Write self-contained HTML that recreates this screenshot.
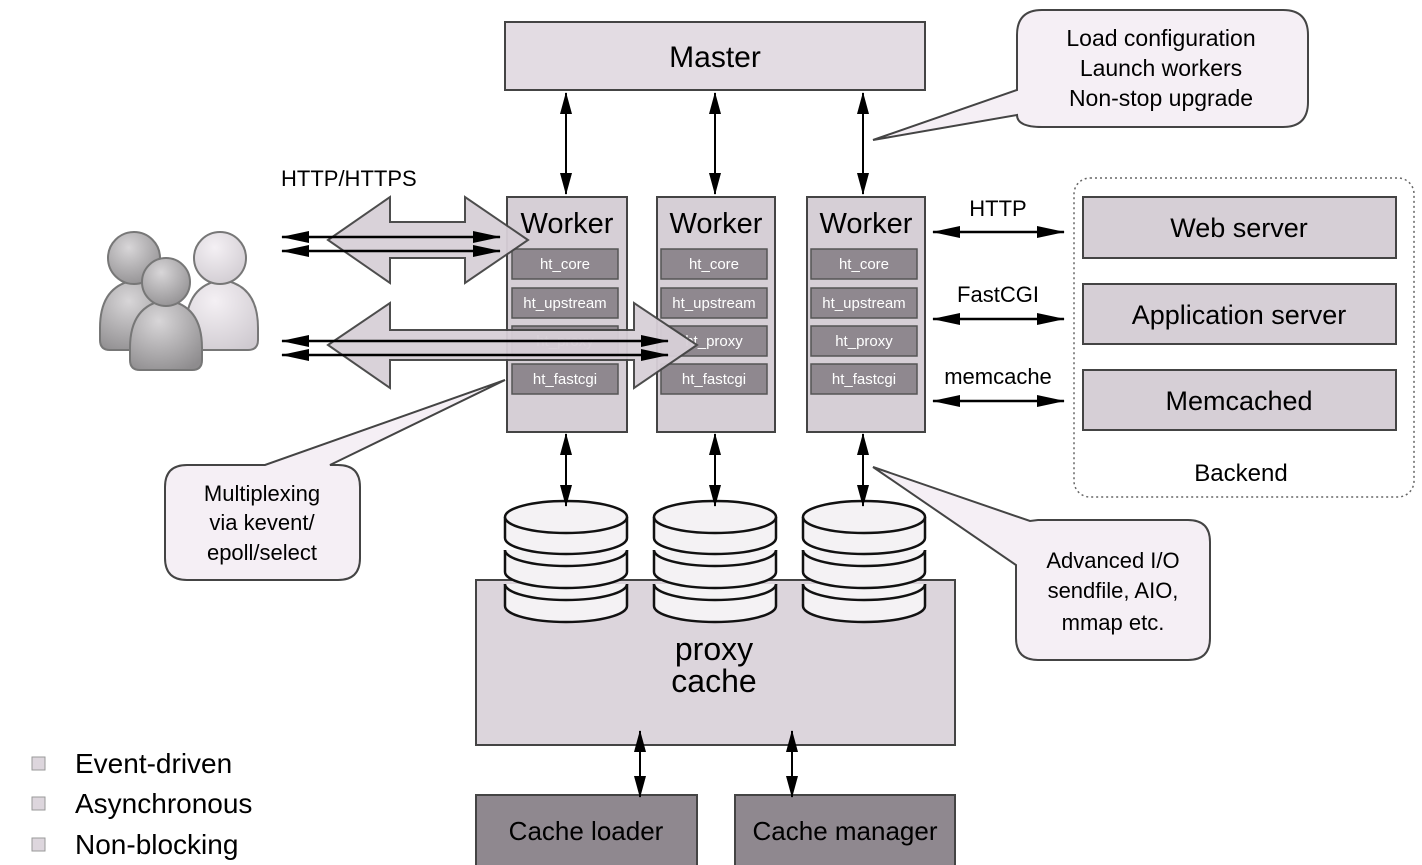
<!DOCTYPE html>
<html><head><meta charset="utf-8"><style>
html,body{margin:0;padding:0;background:#fff;}
svg{display:block;font-family:"Liberation Sans",sans-serif;}
</style></head><body>
<svg width="1422" height="865" viewBox="0 0 1422 865" xmlns="http://www.w3.org/2000/svg">
<defs>
<marker id="c" markerWidth="22" markerHeight="12" refX="21" refY="6" orient="auto-start-reverse" markerUnits="userSpaceOnUse"><path d="M0,0 L22,6 L0,12 Z" fill="#000"/></marker>
<marker id="b" markerWidth="28" markerHeight="12" refX="27" refY="6" orient="auto-start-reverse" markerUnits="userSpaceOnUse"><path d="M0,0 L28,6 L0,12 Z" fill="#000"/></marker>
<radialGradient id="p1" cx="0.4" cy="0.3" r="0.8"><stop offset="0" stop-color="#d8d6d8"/><stop offset="1" stop-color="#8e8c8e"/></radialGradient>
<radialGradient id="p2" cx="0.4" cy="0.3" r="0.8"><stop offset="0" stop-color="#f4f0f4"/><stop offset="1" stop-color="#cfcad0"/></radialGradient>
</defs>

<!-- Master -->
<rect x="505" y="22" width="420" height="68" fill="#e3dce3" stroke="#444" stroke-width="2"/>
<text x="715" y="67" font-size="30" text-anchor="middle">Master</text>

<!-- callout top right -->
<path d="M1042,10 H1283 Q1308,10 1308,35 V102 Q1308,127 1283,127 H1042 Q1017,127 1017,115 L873,140 L1017,90 V35 Q1017,10 1042,10 Z" fill="#f5eff5" stroke="#444" stroke-width="2"/>
<g font-size="23" text-anchor="middle"><text x="1161" y="46">Load configuration</text><text x="1161" y="76">Launch workers</text><text x="1161" y="106">Non-stop upgrade</text></g>

<!-- Workers -->
<g>
<rect x="507" y="197" width="120" height="235" fill="#d6cfd6" stroke="#444" stroke-width="2"/>
<rect x="657" y="197" width="118" height="235" fill="#d6cfd6" stroke="#444" stroke-width="2"/>
<rect x="807" y="197" width="118" height="235" fill="#d6cfd6" stroke="#444" stroke-width="2"/>
<g font-size="29" text-anchor="middle"><text x="567" y="233">Worker</text><text x="716" y="233">Worker</text><text x="866" y="233">Worker</text></g>
<g fill="#8f888f" stroke="#555" stroke-width="1.5">
<rect x="512" y="249" width="106" height="30"/><rect x="512" y="288" width="106" height="30"/><rect x="512" y="326" width="106" height="30"/><rect x="512" y="364" width="106" height="30"/>
<rect x="661" y="249" width="106" height="30"/><rect x="661" y="288" width="106" height="30"/><rect x="661" y="326" width="106" height="30"/><rect x="661" y="364" width="106" height="30"/>
<rect x="811" y="249" width="106" height="30"/><rect x="811" y="288" width="106" height="30"/><rect x="811" y="326" width="106" height="30"/><rect x="811" y="364" width="106" height="30"/>
</g>
<g font-size="15" fill="#fff" text-anchor="middle">
<text x="565" y="269">ht_core</text><text x="565" y="308">ht_upstream</text><text x="565" y="346">ht_proxy</text><text x="565" y="384">ht_fastcgi</text>
<text x="714" y="269">ht_core</text><text x="714" y="308">ht_upstream</text><text x="714" y="346">ht_proxy</text><text x="714" y="384">ht_fastcgi</text>
<text x="864" y="269">ht_core</text><text x="864" y="308">ht_upstream</text><text x="864" y="346">ht_proxy</text><text x="864" y="384">ht_fastcgi</text>
</g>
</g>

<!-- HTTP/HTTPS -->
<text x="281" y="186" font-size="22">HTTP/HTTPS</text>
<path d="M328,240 L390,197 V222 H465 V197 L528,240 L465,283 V258 H390 V283 Z" fill="#d8d0d8" stroke="#444" stroke-width="2" opacity="0.95"/>
<g stroke="#000" stroke-width="2.5" marker-start="url(#b)" marker-end="url(#b)">
<line x1="282" y1="237" x2="500" y2="237"/><line x1="282" y1="251" x2="500" y2="251"/>
</g>
<path d="M328,345 L390,303 V330 H634 V303 L697,345 L634,388 V360 H390 V388 Z" fill="#d8d0d8" stroke="#444" stroke-width="2" opacity="0.95"/>
<g stroke="#000" stroke-width="2.5" marker-start="url(#b)" marker-end="url(#b)">
<line x1="282" y1="341" x2="668" y2="341"/><line x1="282" y1="355" x2="668" y2="355"/>
</g>

<!-- people -->
<g stroke="#777" stroke-width="2">
<path d="M186,328 Q186,285 222,280 Q258,285 258,328 V340 Q258,350 248,350 H196 Q186,350 186,340 Z" fill="url(#p2)"/>
<circle cx="220" cy="258" r="26" fill="url(#p2)"/>
<path d="M100,328 Q100,285 136,280 Q172,285 172,328 V340 Q172,350 162,350 H110 Q100,350 100,340 Z" fill="url(#p1)"/>
<circle cx="134" cy="258" r="26" fill="url(#p1)"/>
<path d="M130,348 Q130,305 166,300 Q202,305 202,348 V360 Q202,370 192,370 H140 Q130,370 130,360 Z" fill="url(#p1)"/>
<circle cx="166" cy="282" r="24" fill="url(#p1)"/>
</g>

<!-- Multiplexing callout -->
<path d="M187,465 H265 L505,380 L330,465 H338 Q360,465 360,487 V558 Q360,580 338,580 H187 Q165,580 165,558 V487 Q165,465 187,465 Z" fill="#f5eff5" stroke="#444" stroke-width="2"/>
<g font-size="22" text-anchor="middle"><text x="262" y="501">Multiplexing</text><text x="262" y="530">via kevent/</text><text x="262" y="560">epoll/select</text></g>

<!-- proxy cache -->
<rect x="476" y="580" width="479" height="165" fill="#dcd5dc" stroke="#444" stroke-width="2"/>
<g font-size="32" text-anchor="middle"><text x="714" y="660">proxy</text><text x="714" y="692">cache</text></g>

<!-- disks -->
<g fill="#f4f2f4" stroke="#111" stroke-width="2.5">
<g id="d1">
<path d="M505,584 V606 A61,16 0 0 0 627,606 V584"/>
<path d="M505,584 A61,16 0 0 0 627,584"/>
<path d="M505,550 V572 A61,16 0 0 0 627,572 V550"/>
<path d="M505,550 A61,16 0 0 0 627,550"/>
<path d="M505,517 V538 A61,16 0 0 0 627,538 V517"/>
<ellipse cx="566" cy="517" rx="61" ry="16"/>
</g>
<use href="#d1" x="149"/>
<use href="#d1" x="298"/>
</g>

<!-- Advanced callout -->
<path d="M1038,520 H1188 Q1210,520 1210,542 V638 Q1210,660 1188,660 H1038 Q1016,660 1016,638 V565 L873,467 L1030,521 Z" fill="#f5eff5" stroke="#444" stroke-width="2"/>
<g font-size="22" text-anchor="middle"><text x="1113" y="568">Advanced I/O</text><text x="1113" y="598">sendfile, AIO,</text><text x="1113" y="630">mmap etc.</text></g>

<!-- backend arrows -->
<g font-size="22" text-anchor="middle"><text x="998" y="216">HTTP</text><text x="998" y="302">FastCGI</text><text x="998" y="384">memcache</text></g>
<g stroke="#000" stroke-width="2.5" marker-start="url(#b)" marker-end="url(#b)">
<line x1="933" y1="232" x2="1064" y2="232"/><line x1="933" y1="319" x2="1064" y2="319"/><line x1="933" y1="401" x2="1064" y2="401"/>
</g>

<!-- backend -->
<rect x="1074" y="178" width="340" height="319" rx="16" fill="none" stroke="#666" stroke-width="1.5" stroke-dasharray="2,3"/>
<g fill="#d6cfd6" stroke="#444" stroke-width="2">
<rect x="1083" y="197" width="313" height="61"/><rect x="1083" y="284" width="313" height="60"/><rect x="1083" y="370" width="313" height="60"/>
</g>
<g font-size="27" text-anchor="middle"><text x="1239" y="237">Web server</text><text x="1239" y="324">Application server</text><text x="1239" y="410">Memcached</text><text x="1241" y="481" font-size="24">Backend</text></g>

<!-- cache loader/manager -->
<rect x="476" y="795" width="221" height="75" fill="#8f888f" stroke="#444" stroke-width="2"/>
<rect x="735" y="795" width="220" height="75" fill="#8f888f" stroke="#444" stroke-width="2"/>
<g font-size="26" text-anchor="middle"><text x="586" y="840">Cache loader</text><text x="845" y="840">Cache manager</text></g>

<!-- vertical arrows (on top) -->
<g stroke="#000" stroke-width="2" marker-start="url(#c)" marker-end="url(#c)">
<line x1="566" y1="93" x2="566" y2="194"/><line x1="715" y1="93" x2="715" y2="194"/><line x1="863" y1="93" x2="863" y2="194"/>
<line x1="566" y1="434" x2="566" y2="506"/><line x1="715" y1="434" x2="715" y2="506"/><line x1="863" y1="434" x2="863" y2="506"/>
<line x1="640" y1="731" x2="640" y2="797"/><line x1="792" y1="731" x2="792" y2="797"/>
</g>

<!-- bullets -->
<g fill="#ddd6dd" stroke="#999" stroke-width="1"><rect x="32" y="757" width="13" height="13"/><rect x="32" y="797" width="13" height="13"/><rect x="32" y="838" width="13" height="13"/></g>
<g font-size="28"><text x="75" y="773">Event-driven</text><text x="75" y="813">Asynchronous</text><text x="75" y="854">Non-blocking</text></g>
</svg>
</body></html>
